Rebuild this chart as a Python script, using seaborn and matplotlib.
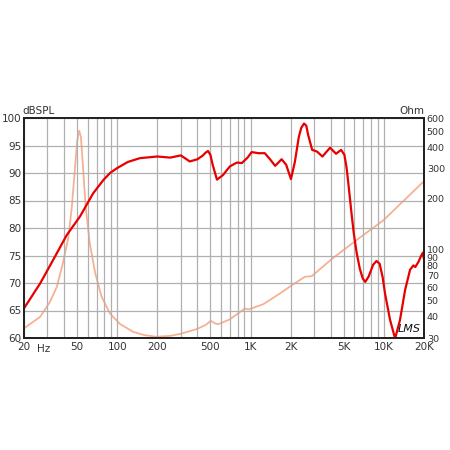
import matplotlib
matplotlib.use("Agg")
import matplotlib.pyplot as plt
import matplotlib.ticker as mticker
import seaborn as sns
import pandas as pd

spl_freq = [20, 26.4, 33.1, 41.8, 52.6, 66, 78.6, 88.4, 100, 120, 148, 200, 250, 300, 350, 400,
            440, 460, 480, 500, 520, 560, 620, 700, 790, 860, 950, 1020, 1150, 1280, 1400, 1530,
            1710, 1850, 2010, 2150, 2300, 2400, 2520, 2620, 2700, 2900, 3150, 3460, 3950, 4380,
            4780, 5060, 5250, 5450, 5700, 5950, 6250, 6600, 6950, 7250, 7700, 8300, 8800, 9300,
            9800, 10200, 11130, 12140, 13220, 14420, 15720, 16650, 17200, 18140, 19000, 19600,
            20000]
spl_db = [65.4, 69.9, 74.2, 78.7, 82.1, 86.3, 88.7, 90.0, 90.9, 92.0, 92.7, 93.0, 92.8, 93.2,
          92.1, 92.5, 93.2, 93.7, 94.0, 93.3, 91.5, 88.8, 89.6, 91.2, 91.9, 91.8, 92.8, 93.8,
          93.6, 93.6, 92.5, 91.3, 92.5, 91.5, 88.9, 92.0, 96.5, 98.2, 99.0, 98.6, 97.0, 94.2,
          93.9, 93.0, 94.6, 93.5, 94.2, 93.3, 91.0, 87.5, 83.0, 79.0, 75.5, 72.6, 70.8, 70.2,
          71.2, 73.3, 74.0, 73.5, 71.0, 68.1, 63.3, 59.9, 63.3, 68.7, 72.4, 73.2, 72.9, 73.8,
          74.9, 75.5, 74.3]

imp_freq = [20, 26.4, 31.3, 35.3, 39.1, 43.1, 45.7, 48.1, 50.2, 51.9, 53.4, 55.6, 58.0, 62.3,
            68.5, 76.4, 88.4, 105, 132, 160, 197, 250, 296, 392, 460, 505, 540, 573, 697, 910,
            963, 1245, 1661, 2037, 2560, 2880, 4065, 6440, 9920, 20000]
imp_ohm = [34.2, 40.0, 49.0, 60.3, 82.8, 118.8, 179, 296, 444, 505, 465, 296, 179, 108.7, 72.2,
           52.6, 41.8, 36.3, 32.6, 31.2, 30.5, 30.9, 31.7, 33.8, 35.8, 37.9, 36.6, 36.2, 38.6,
           44.9, 44.2, 47.5, 55.0, 61.5, 69.1, 69.6, 87.9, 116, 149, 254]

x_ticks = [20, 50, 100, 200, 500, 1000, 2000, 5000, 10000, 20000]
x_labels = ["20", "50", "100", "200", "500", "1K", "2K", "5K", "10K", "20K"]
left_ticks = [60, 65, 70, 75, 80, 85, 90, 95, 100]
right_ticks = [30, 40, 50, 60, 70, 80, 90, 100, 200, 300, 400, 500, 600]

sns.set_style("white")
plt.rcParams['font.family'] = ['DejaVu Sans']

fig = plt.figure(figsize=(4.5, 4.5), dpi=100)
ax = fig.add_axes([24/450, 112/450, 400/450, 220/450])
ax2 = ax.twinx()

df_spl = pd.DataFrame({"f": spl_freq, "db": spl_db})
df_imp = pd.DataFrame({"f": imp_freq, "z": imp_ohm})

ax.set_xscale("log")
ax2.set_yscale("log")
sns.lineplot(data=df_imp, x="f", y="z", ax=ax2, color="#f8b092", linewidth=1.3)
sns.lineplot(data=df_spl, x="f", y="db", ax=ax, color="#e80000", linewidth=1.6)
ax.set_zorder(ax2.get_zorder() + 1)
ax.patch.set_visible(False)

ax.set_xlim(20, 20000)
ax.set_ylim(60, 100)
ax2.set_ylim(30, 600)

ax.xaxis.set_major_locator(mticker.FixedLocator(x_ticks))
ax.xaxis.set_major_formatter(mticker.FixedFormatter(x_labels))
ax.xaxis.set_minor_locator(mticker.LogLocator(base=10, subs=range(1, 10), numticks=20))
ax.xaxis.set_minor_formatter(mticker.NullFormatter())
ax.set_yticks(left_ticks)
ax.set_yticklabels([str(t) for t in left_ticks])
ax2.yaxis.set_major_locator(mticker.FixedLocator(right_ticks))
ax2.yaxis.set_major_formatter(mticker.FixedFormatter([str(t) for t in right_ticks]))
ax2.yaxis.set_minor_locator(mticker.NullLocator())

ax.grid(True, which="both", axis="x", color="#b0b0b0", linewidth=0.9)
ax.grid(True, which="major", axis="y", color="#b0b0b0", linewidth=0.9)
ax2.grid(False)

for a in (ax, ax2):
    a.tick_params(which="both", length=0, labelsize=7.5, labelcolor="#333333", pad=2)
    for s in a.spines.values():
        s.set_color("#222222")
        s.set_linewidth(1.4)
ax2.tick_params(axis="y", labelsize=6.8, pad=2)
ax.tick_params(axis="x", pad=3)

ax.set_xlabel("")
ax.set_ylabel("")
ax2.set_ylabel("")

ax.text(-0.005, 1.01, "dBSPL", transform=ax.transAxes, ha="left", va="bottom",
        fontsize=7.5, color="#333333")
ax.text(1.0, 1.01, "Ohm", transform=ax.transAxes, ha="right", va="bottom",
        fontsize=7.5, color="#333333")
ax.text(0.033, -0.028, "Hz", transform=ax.transAxes, ha="left", va="top",
        fontsize=7.5, color="#333333")
ax.text(0.935, 0.02, "LMS", transform=ax.transAxes, ha="left", va="bottom",
        fontsize=8, color="#111111", fontstyle="italic")

fig.savefig("out.png", dpi=100)
